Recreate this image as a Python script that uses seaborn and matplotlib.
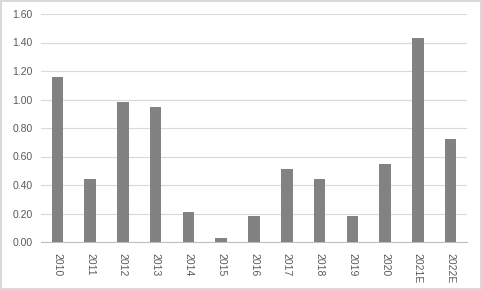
import matplotlib
matplotlib.use("Agg")
import matplotlib.pyplot as plt
import seaborn as sns
import pandas as pd

years = ["2010", "2011", "2012", "2013", "2014", "2015", "2016", "2017", "2018", "2019", "2020", "2021E", "2022E"]
values = [1.16, 0.44, 0.98, 0.95, 0.21, 0.03, 0.18, 0.51, 0.44, 0.18, 0.55, 1.43, 0.72]
yticks = [0.0, 0.2, 0.4, 0.6, 0.8, 1.0, 1.2, 1.4, 1.6]

df = pd.DataFrame({"year": years, "value": values})

sns.set_theme(style="white")
plt.rcParams["font.family"] = ["Liberation Sans", "DejaVu Sans"]
plt.rcParams["hatch.color"] = "#666666"
plt.rcParams["hatch.linewidth"] = 0.5

fig = plt.figure(figsize=(4.82, 2.90), dpi=100)
ax = fig.add_axes([41/482, 1-242/290, (467-41)/482, (242-14)/290])

sns.barplot(data=df, x="year", y="value", color="#828282", width=0.35,
            saturation=1, ax=ax, zorder=3)
for p in ax.patches:
    p.set_hatch("//////")
    p.set_edgecolor("none")

ax.set_ylim(0, 1.6)
ax.set_yticks(yticks)
ax.set_yticklabels([f"{v:.2f}" for v in yticks])
ax.set_xlabel("")
ax.set_ylabel("")
ax.yaxis.grid(True, color="#d9d9d9", linewidth=0.8, zorder=0)
for s in ["top", "right", "left"]:
    ax.spines[s].set_visible(False)
ax.spines["bottom"].set_color("#bfbfbf")
ax.spines["bottom"].set_linewidth(0.8)
ax.tick_params(axis="both", length=0, colors="#595959", labelsize=7.5, pad=6)
ax.tick_params(axis="x", pad=8)
for lbl in ax.get_xticklabels():
    lbl.set_rotation(-90)
    lbl.set_va("top")
    lbl.set_ha("center")

fig.patch.set_edgecolor("#d9d9d9")
fig.patch.set_linewidth(1.5)

fig.savefig("out.png", dpi=100, edgecolor=fig.get_edgecolor())
